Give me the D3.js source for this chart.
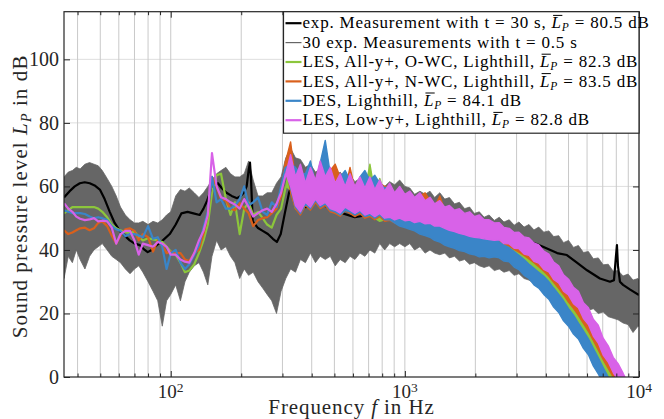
<!DOCTYPE html>
<html>
<head>
<meta charset="utf-8">
<script src="https://cdnjs.cloudflare.com/ajax/libs/d3/7.8.5/d3.min.js"></script>
<style>
  body { margin: 0; background: #fff; }
  svg { display: block; }
  text { font-family: "Liberation Serif", "Times New Roman", Times, serif; }
</style>
</head>
<body>
<svg id="chart" width="664" height="419"></svg>
<script>
'use strict';

// frequency grid in Hz (measurement band + simulations)
const freq = [
  35, 36.5, 38, 39.5, 41, 43, 45, 47, 49, 51,
  53.5, 56, 58.5, 61, 64, 67, 70, 73, 76, 80,
  84, 88, 92, 96, 100, 105, 110, 115, 120, 126,
  132, 138, 144, 150, 157, 164, 172, 180, 188, 197,
  206, 215, 225, 236, 247, 258, 270, 283, 296, 310,
  325, 341, 358, 376, 395, 415, 435, 457, 480, 504,
  529, 556, 583, 612, 643, 675, 709, 744, 781, 820,
  861, 904, 950, 1000, 1050, 1100, 1160, 1220, 1280, 1340,
  1410, 1480, 1550, 1630, 1710, 1800, 1890, 1980, 2080, 2180,
  2290, 2410, 2530, 2650, 2790, 2930, 3070, 3230, 3390, 3560,
  3730, 3920, 4120, 4320, 4540, 4760, 5000, 5250, 5510, 5790,
  6080, 6380, 6700, 7030, 7390, 7760, 8140, 8550, 8980, 9430,
  9900, 10000
];

// 30 short measurements: upper and lower envelope in dB
const grayHi = [
  63, 64.5, 65, 66, 65.5, 67, 67.5, 67, 66.5, 65,
  62.5, 60, 57, 53.5, 51, 49.5, 48.5, 48.5, 49, 48,
  49, 48.5, 49.5, 51, 52, 57, 59, 58.5, 59.5, 58,
  56.5, 58, 60, 62, 64, 65, 66, 64, 63, 63,
  64, 68, 62, 57, 57, 58, 58, 61, 63, 69,
  72, 69, 68.5, 66, 67, 64.5, 65.5, 64.5, 65, 63,
  64.5, 62.5, 63.5, 61.5, 62.5, 60.5, 61.5, 59.5, 61, 60,
  61.5, 60.5, 62, 60, 59.5, 57.5, 58.5, 57.5, 58.5, 56.5,
  58, 56, 56.5, 54.5, 55, 53, 53.5, 51.5, 52, 50.3,
  51, 49.3, 50.3, 48.8, 49.5, 47.8, 48.8, 47.2, 48, 46.3,
  47.2, 45.6, 46, 44.2, 44.5, 42.3, 43, 40.8, 41.4, 39.2,
  39.5, 37.2, 37.5, 35.3, 35.5, 33.3, 33.5, 31.8, 32.4, 30.5,
  31, 30.5
];
const grayLo = [
  31, 38, 36, 40, 37, 34, 38, 40, 41, 42,
  40, 38, 37, 36, 34, 32.5, 34, 35, 33, 30,
  27, 24, 16, 24, 26, 29, 24, 30, 33, 35,
  36, 33, 29, 38, 43, 40, 41, 38, 36, 31,
  34, 32, 33, 30, 28, 26, 24, 20, 27, 31,
  34, 33, 37, 36, 39, 36, 38, 37, 38, 35,
  37, 36, 38, 37, 39, 38, 40, 39, 42, 40,
  42, 41, 42, 41, 42, 40, 41, 39, 40, 39,
  38.5, 39, 37.5, 38, 36.5, 37, 35.5, 36, 35, 34.5,
  35, 33.5, 34, 33, 33.5, 32, 32.5, 31, 30.5, 29.5,
  29, 28, 28, 26.5, 25.5, 25, 24, 23.5, 22.5, 22,
  21, 21.5, 20, 20.5, 19, 18.5, 18, 17, 16.5, 14,
  16, 16
];

// long measurement (t = 30 s)
const blackFreq = [
  35, 37, 38.9, 40.9, 42.9, 45.1, 47.3, 49.8, 52.2, 54.9,
  57.6, 60.6, 63.6, 66.8, 70.1, 73.8, 77.4, 79.7, 82.9, 87.1,
  92.5, 99, 105, 111, 118, 125, 133, 138, 143, 147,
  153, 159, 165, 173, 182, 192, 199, 205, 211, 215,
  218, 220, 224, 235, 247, 260, 273, 284, 295, 307,
  320, 332, 345, 359, 378, 400, 425, 455, 492, 543,
  611, 694, 781, 904, 1050, 1280, 1560, 1900, 2160, 2550,
  3100, 3890, 4470, 4920, 5430, 6000, 6810, 7520, 7820, 7970,
  8050, 8130, 8290, 8550, 9170, 10000
];
const blackLevel = [
  56.5, 58.5, 60, 61, 61.3, 61, 60.3, 59, 56, 52,
  48.5, 46, 44.5, 43, 42, 41.5, 40, 39.3, 40, 41.5,
  43, 45, 48, 51.5, 52, 51.5, 51, 53, 55.5, 58,
  60, 61, 59.5, 58, 57, 56.3, 57, 58, 60, 65,
  67.5, 63, 49, 47, 46, 45, 43.5, 42.5, 45, 51.5,
  58, 61, 60, 56, 53.5, 54.5, 55.5, 54, 52.5, 51.5,
  50.3, 51, 52.5, 53, 52.5, 51.5, 50.5, 49.5, 48.4, 46.5,
  44, 41, 39, 38.4, 36, 33.6, 31, 30, 30.5, 38,
  41.5, 35, 30, 29, 27.5, 25.8
];

// simulations: single line up to 310 Hz, fast oscillation as min/max band above
const lineEnd = 310;

const greenLine = [
  51.5, 52.5, 53.5, 53.5, 53.5, 53.5, 53.5, 53.5, 53, 52,
  50.3, 48, 46.8, 46.2, 45.6, 45.3, 45.8, 44, 43, 43.7,
  43.3, 43, 42.5, 41, 39.5, 38.5, 36, 33, 33.5, 35.5,
  39, 43, 48, 58, 63.5, 64, 56, 51, 55, 45,
  53, 55, 51, 52, 50, 48, 47, 51, 53, 60
];
const greenHi = [
  60,
  68, 64, 65, 62, 64, 60, 66, 61, 64, 60,
  63, 61, 62, 59, 62, 58.5, 67, 58, 62.5, 57.5,
  60, 57, 59, 56.5, 57.5, 55.5, 57, 54.5, 55.6, 53.5,
  54.5, 52.5, 53, 51.5, 52, 50.5, 51, 49.5, 50, 48.5,
  48.5, 46, 44.5, 43.5, 43, 42, 41.2, 40.3, 39.2, 38,
  36.8, 35.5, 34, 32.3, 30.5, 28.6, 26.6, 24.7, 22.6, 20,
  17.3, 14.5, 11.5, 8.5, 5.5, 3, 0.5, -2, null, null, null, null
];
const greenLo = [
  60,
  59, 53, 51.5, 54.5, 53, 55.5, 53.5, 54.5, 52.5, 52,
  51, 53, 52, 51, 52, 50.5, 51, 50, 49, 49.5,
  49.8, 49, 48, 48.7, 48.9, 48.1, 48.5, 47.7, 47.9, 47,
  47, 46.3, 45.7, 45.3, 44.7, 44.3, 43.8, 43.5, 43.3, 43,
  42.5, 41.5, 41, 40, 39.2, 38, 36.8, 35.5, 34, 32.7,
  31.5, 30.2, 28.5, 26.5, 24.5, 22.5, 20, 18, 15.5, 13,
  10.5, 7.5, 4.5, 1.5, -1.5, -4, -6, -8, null, null, null, null
];

const orangeLine = [
  46.2, 45, 45.5, 46.2, 46.8, 47, 46.2, 46.8, 48.5, 49,
  47.5, 44.5, 42, 44.5, 46.5, 46.8, 46, 43, 45, 44,
  39.5, 43, 41.5, 39, 39.5, 39, 39, 37, 36.5, 39,
  40, 45, 51, 63, 60, 56, 55.6, 53, 52.5, 54.7,
  53, 51.6, 47.5, 49.4, 50, 50.3, 51.6, 53, 57, 68
];
const orangeHi = [
  68,
  74, 62, 66, 60, 65, 61, 67, 62, 65, 67,
  63, 59, 66, 59, 62, 58.5, 62, 58, 61, 60,
  60, 57, 59, 56.5, 57.5, 55.5, 57, 58, 55.6, 53.5,
  57, 52.5, 53, 51.5, 52, 50.5, 51, 49.5, 50, 48.5,
  48, 46.5, 45, 44, 43.5, 42.5, 42, 41, 40, 38.8,
  37.5, 36.2, 34.7, 33, 31.2, 29.3, 27.3, 25.4, 23.3, 20.7,
  18, 15.2, 12.2, 9.2, 6.2, 3.7, 1, -2, null, null, null, null
];
const orangeLo = [
  68,
  58, 53, 51, 54, 52.5, 55, 53, 54, 52, 51.5,
  50.6, 52.5, 51.5, 50.5, 51.5, 50, 50.6, 49.5, 50.5, 49,
  49.3, 48.5, 49, 48.2, 48.4, 47.6, 48, 47.2, 47.4, 46.5,
  46.3, 45.6, 45, 44.6, 44, 43.6, 43.1, 42.8, 42.6, 42.3,
  42.1, 42.5, 42.6, 41.8, 41.2, 40.2, 39.3, 38.3, 37.2, 36,
  34.7, 33.3, 31.7, 29.8, 27.9, 25.9, 23.6, 21.6, 19.4, 16.9,
  14.4, 11.5, 8.5, 5.5, 2.7, 0, -3, -6, null, null, null, null
];

const blueLine = [
  52.5, 52, 51.6, 51.6, 51.6, 51.3, 50.5, 50, 50.3, 50,
  49.4, 47.5, 46.5, 46, 44.3, 45, 45, 44.5, 44, 47.5,
  43.5, 44, 41, 34, 39, 40, 36, 34, 35.5, 38.5,
  41.5, 47, 52, 63, 55, 56, 53, 53, 54, 56,
  60, 54, 55, 56.5, 52, 51, 55, 53.5, 60, 66
];
const blueHi = [
  66,
  67, 66, 64, 64, 68, 61, 67.5, 74.5, 64, 60,
  63, 65, 62, 59, 63, 65, 62, 63.5, 61, 59.5,
  60, 57, 59, 56.5, 57.5, 55.5, 57, 54.5, 55.6, 53.5,
  54.5, 52.5, 53, 51.5, 52, 50.5, 51, 49.5, 50, 48.5,
  48, 46, 42.5, 41.5, 40.7, 39.5, 38.3, 37, 35.5, 34.2,
  33, 31.7, 30, 28, 26, 24, 21.5, 19.5, 17, 14.5,
  12, 9, 6, 3, 0, -3, null, null, null, null, null, null
];
const blueLo = [
  66,
  59.5, 53.5, 51.5, 54.5, 53, 55.5, 53.5, 54.5, 52.5, 52,
  51, 52.5, 52, 51, 52, 50.5, 51, 50, 51, 49.5,
  49.5, 48.5, 47.5, 47, 46.5, 46, 45, 44.5, 44, 43,
  42.5, 41.5, 41, 40.5, 39.8, 39.5, 38.8, 38.5, 37.8, 38,
  37.5, 37.8, 37.5, 36.5, 36.3, 34.6, 33.8, 32, 31, 29,
  28, 26, 24.5, 22, 20.3, 17.7, 16, 13.5, 12, 9,
  7, 3.5, 1, -2, -5, -8, null, null, null, null, null, null
];

const pinkLine = [
  54.7, 53, 52, 50.5, 49.8, 49.4, 49.6, 50, 49, 49.2,
  49, 47, 42, 45, 46, 46, 43, 38.5, 42, 41.5,
  41, 42.5, 42, 41, 38.5, 38.5, 37, 36.3, 36, 39,
  43, 46, 51, 70.5, 60, 56.6, 56, 55, 54.3, 53,
  56, 53.5, 50.5, 51.6, 52.5, 53, 52, 54.5, 58, 64
];
const pinkHi = [
  64,
  70, 63, 67, 61, 66, 62, 68, 63, 66, 61,
  64, 60, 64, 60, 63, 59.5, 63, 59, 62, 58.5,
  61, 58, 60, 57.5, 58.5, 56.5, 58, 55.5, 56.6, 54.5,
  55.5, 53.5, 54, 52.5, 53, 51.5, 52, 50.5, 51, 49.5,
  49.5, 48.5, 48.6, 47.1, 46.8, 45.5, 45.6, 44.1, 43.8, 42.2,
  41.6, 39.6, 38.7, 36.2, 35, 32.2, 30.8, 28.2, 27, 23.4,
  21.8, 18.2, 16.3, 12.2, 9.8, 6.2, 4.2, 1.2, -2, null, null, null
];
const pinkLo = [
  64,
  60, 54, 52, 55, 53.5, 56, 54, 55, 53, 52.5,
  51.6, 53.5, 52.5, 51.5, 52.5, 51, 51.6, 50.5, 51.5, 50,
  50.3, 49.5, 50, 49.2, 49.4, 48.6, 49, 48.2, 48.4, 47.5,
  47.5, 46.8, 46.2, 45.8, 45.2, 44.8, 44.3, 44, 43.8, 43.5,
  43.3, 43, 43.2, 42, 41.9, 40.5, 40.4, 38.7, 38.3, 36.4,
  35.9, 33.9, 33.1, 30.7, 29.6, 27, 25.8, 23.1, 21.8, 18.4,
  16.5, 12.9, 10.7, 6.9, 4.7, 1.4, -1, -4, -6, null, null, null
];

const xMajor = [100, 1000, 10000];
const yTicks = [0, 20, 40, 60, 80, 100];

const legendLabels = [
  'exp. Measurement with t = 30 s, ',
  '30 exp. Measurements with t = 0.5 s',
  'LES, All-y+, O-WC, Lighthill, ',
  'LES, All-y+, N-WC, Lighthill, ',
  'DES, Lighthill, ',
  'LES, Low-y+, Lighthill, '
];
const legendLevels = [80.5, null, 82.3, 83.5, 84.1, 82.8];

const colors = {
  black: '#000000',
  gray: '#666666',
  green: '#8cc63c',
  orange: '#d9601c',
  blue: '#3a85c8',
  pink: '#d862e8'
};
const legendColors = [colors.black, colors.gray, colors.green, colors.orange, colors.blue, colors.pink];

(function() {
  const svg = d3.select('#chart');
  const left = 64, right = 639, top = 11.7, bottom = 377;
  const serif = '"Liberation Serif", "Times New Roman", Times, serif';

  const x = d3.scaleLog().domain([35, 10000]).range([left, right]);
  const y = d3.scaleLinear().domain([0, 115]).range([bottom, top]);

  svg.append('defs').append('clipPath').attr('id', 'plot-clip')
    .append('rect')
    .attr('x', left).attr('y', top)
    .attr('width', right - left).attr('height', bottom - top);

  // grid: every log minor line, horizontal at the y ticks
  const xGrid = x.ticks();
  svg.append('g').selectAll('line').data(yTicks.slice(1)).join('line')
    .attr('x1', left).attr('x2', right)
    .attr('y1', d => y(d)).attr('y2', d => y(d))
    .attr('stroke', '#dedede').attr('stroke-width', 1);
  svg.append('g').selectAll('line').data(xGrid).join('line')
    .attr('x1', d => x(d)).attr('x2', d => x(d))
    .attr('y1', top).attr('y2', bottom)
    .attr('stroke', '#c9c9c9').attr('stroke-width', 1);

  const plot = svg.append('g').attr('clip-path', 'url(#plot-clip)');

  const band = d3.area()
    .defined(d => d.lo != null && d.hi != null)
    .x(d => x(d.f))
    .y0(d => y(d.lo))
    .y1(d => y(d.hi));
  const line = d3.line()
    .x(d => x(d.f))
    .y(d => y(d.v));

  // gray measurement band
  const grayRows = freq.map((f, i) => ({ f: f, lo: grayLo[i], hi: grayHi[i] }));
  plot.append('path').datum(grayRows)
    .attr('d', band)
    .attr('fill', colors.gray)
    .attr('stroke', colors.gray)
    .attr('stroke-width', 0.8);

  // long measurement
  const blackRows = blackFreq.map((f, i) => ({ f: f, v: blackLevel[i] }));
  plot.append('path').datum(blackRows)
    .attr('d', line)
    .attr('fill', 'none')
    .attr('stroke', colors.black)
    .attr('stroke-width', 2.2)
    .attr('stroke-linejoin', 'round');

  // simulations
  const lineFreq = freq.filter(f => f <= lineEnd);
  const bandFreq = freq.filter(f => f >= lineEnd);
  const sims = [
    { color: colors.green, line: greenLine, hi: greenHi, lo: greenLo },
    { color: colors.orange, line: orangeLine, hi: orangeHi, lo: orangeLo },
    { color: colors.blue, line: blueLine, hi: blueHi, lo: blueLo },
    { color: colors.pink, line: pinkLine, hi: pinkHi, lo: pinkLo }
  ];
  sims.forEach(s => {
    plot.append('path')
      .datum(lineFreq.map((f, i) => ({ f: f, v: s.line[i] })))
      .attr('d', line)
      .attr('fill', 'none')
      .attr('stroke', s.color)
      .attr('stroke-width', 2.2)
      .attr('stroke-linejoin', 'round');
    plot.append('path')
      .datum(bandFreq.map((f, i) => ({ f: f, lo: s.lo[i], hi: s.hi[i] })))
      .attr('d', band)
      .attr('fill', s.color)
      .attr('stroke', s.color)
      .attr('stroke-width', 1.4)
      .attr('stroke-linejoin', 'round');
  });

  // ticks pointing inwards on all four sides
  const tickColor = '#262626';
  const minorX = xGrid.filter(d => !xMajor.includes(d));
  const addTicks = (axis, transform) => {
    const g = svg.append('g').attr('transform', transform).call(axis);
    g.select('.domain').remove();
    g.selectAll('line').attr('stroke', tickColor);
  };
  addTicks(d3.axisBottom(x).tickValues(minorX).tickSize(-3.5).tickFormat(''), `translate(0,${bottom})`);
  addTicks(d3.axisBottom(x).tickValues(xMajor).tickSize(-6).tickFormat(''), `translate(0,${bottom})`);
  addTicks(d3.axisTop(x).tickValues(minorX).tickSize(-3.5).tickFormat(''), `translate(0,${top})`);
  addTicks(d3.axisTop(x).tickValues(xMajor).tickSize(-6).tickFormat(''), `translate(0,${top})`);
  addTicks(d3.axisLeft(y).tickValues(yTicks).tickSize(-6).tickFormat(''), `translate(${left},0)`);
  addTicks(d3.axisRight(y).tickValues(yTicks).tickSize(-6).tickFormat(''), `translate(${right},0)`);

  // axes box
  svg.append('rect')
    .attr('x', left).attr('y', top)
    .attr('width', right - left).attr('height', bottom - top)
    .attr('fill', 'none').attr('stroke', tickColor).attr('stroke-width', 1.2);

  // tick labels
  svg.append('g').selectAll('text').data(yTicks).join('text')
    .attr('x', left - 5)
    .attr('y', d => y(d) + 6.7)
    .attr('text-anchor', 'end')
    .attr('font-family', serif)
    .style('font-size', '20px')
    .attr('fill', tickColor)
    .text(d => d);

  const xLabels = svg.append('g').selectAll('text').data(xMajor).join('text')
    .attr('x', d => x(d))
    .attr('y', 397.5)
    .attr('text-anchor', 'middle')
    .attr('font-family', serif)
    .style('font-size', '19px')
    .attr('fill', tickColor);
  xLabels.append('tspan').text('10');
  xLabels.append('tspan')
    .attr('dy', -6)
    .style('font-size', '13.5px')
    .text(d => Math.round(Math.log10(d)));

  // axis titles
  const xTitle = svg.append('text')
    .attr('x', (left + right) / 2)
    .attr('y', 414)
    .attr('text-anchor', 'middle')
    .attr('font-family', serif)
    .style('font-size', '21px')
    .style('letter-spacing', '0.9px')
    .attr('fill', tickColor);
  xTitle.append('tspan').text('Frequency ');
  xTitle.append('tspan').style('font-style', 'italic').text('f');
  xTitle.append('tspan').text(' in Hz');

  const yTitle = svg.append('text')
    .attr('transform', `translate(26.5,${(top + bottom) / 2 + 2})rotate(-90)`)
    .attr('text-anchor', 'middle')
    .attr('font-family', serif)
    .style('font-size', '21px')
    .style('letter-spacing', '1.1px')
    .attr('fill', tickColor);
  yTitle.append('tspan').text('Sound pressure level ');
  yTitle.append('tspan').style('font-style', 'italic').text('L');
  yTitle.append('tspan').attr('dy', 4).style('font-style', 'italic').style('font-size', '14px').text('P');
  yTitle.append('tspan').attr('dy', -4).text(' in dB');

  // legend
  const lgX = 283.5, lgY = top, lgW = right - 283.5, lgH = 121.5, rowH = 19.4;
  const legend = svg.append('g');
  legend.append('rect')
    .attr('x', lgX).attr('y', lgY).attr('width', lgW).attr('height', lgH)
    .attr('fill', '#fff').attr('stroke', tickColor).attr('stroke-width', 1.2);

  legendLabels.forEach((label, i) => {
    const cy = lgY + 11.5 + i * rowH;
    legend.append('line')
      .attr('x1', lgX + 2).attr('x2', lgX + 18)
      .attr('y1', cy).attr('y2', cy)
      .attr('stroke', legendColors[i])
      .attr('stroke-width', i === 1 ? 1.2 : 2.2);

    const t = legend.append('text')
      .attr('x', lgX + 19)
      .attr('y', cy + 5.2)
      .attr('font-family', serif)
      .style('font-size', '17px')
      .style('letter-spacing', '0.8px')
      .attr('fill', '#000');
    t.append('tspan').text(label);
    if (legendLevels[i] == null) return;
    t.append('tspan').style('font-style', 'italic').text('L');
    t.append('tspan').attr('dy', 3).style('font-style', 'italic').style('font-size', '11.5px').text('P');
    t.append('tspan').attr('dy', -3).text(` = ${legendLevels[i]} dB`);

    // bar over the L
    const node = t.node();
    const s = node.getStartPositionOfChar(label.length);
    const e = node.getEndPositionOfChar(label.length);
    legend.append('line')
      .attr('x1', s.x + 1.5).attr('x2', e.x + 0.5)
      .attr('y1', cy - 7.8).attr('y2', cy - 7.8)
      .attr('stroke', '#000').attr('stroke-width', 1);
  });
})();
</script>
</body>
</html>
